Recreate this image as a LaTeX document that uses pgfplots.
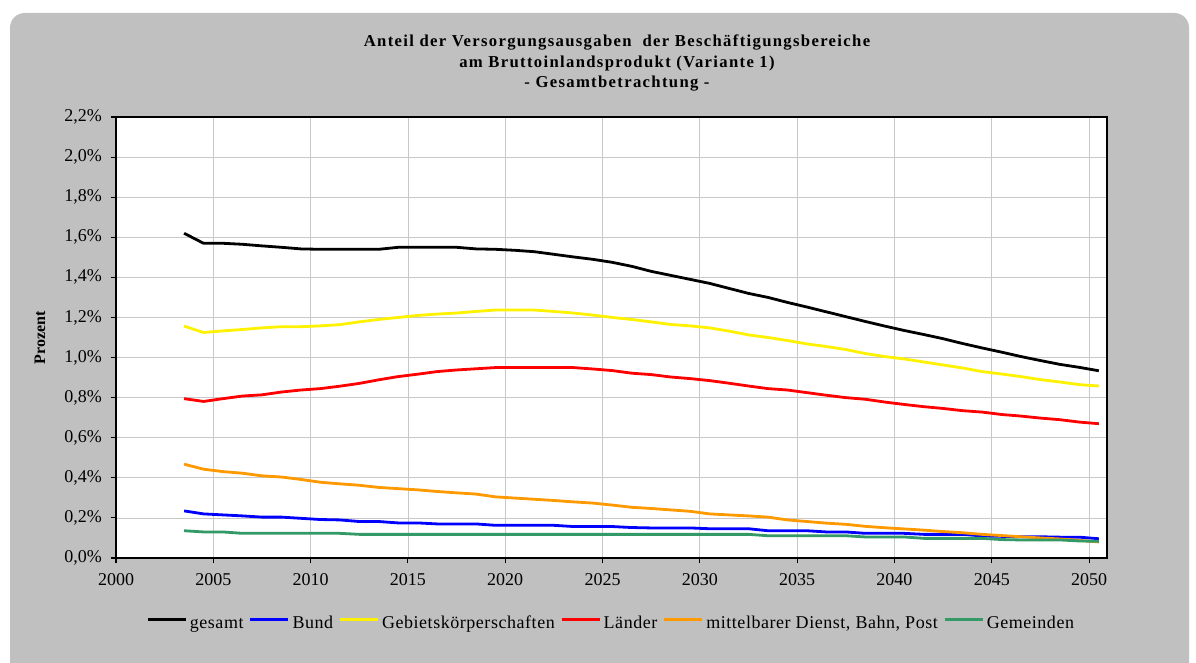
\documentclass[border=0pt]{standalone}
\usepackage{fontspec}
\setmainfont{Liberation Serif}
\newfontfamily\titlefont[LetterSpace=8]{Liberation Serif}
\newfontfamily\legfont[LetterSpace=3]{Liberation Serif}
\usepackage{pgfplots}
\pgfplotsset{compat=1.18}
\usepackage{pgfplotstable}

\definecolor{bg}{RGB}{192,192,192}
\definecolor{gridc}{RGB}{200,200,200}
\definecolor{cOrange}{RGB}{255,153,0}
\definecolor{cGreen}{RGB}{51,153,102}

% Anteil am BIP in Prozent, Jahreswerte
\pgfplotstableread{
year   gesamt bund  gebiet laender mittel gemeinden
2003.5 1.620 0.235 1.157 0.795 0.468 0.136
2004.5 1.570 0.220 1.125 0.781 0.443 0.130
2005.5 1.570 0.215 1.133 0.795 0.431 0.130
2006.5 1.565 0.210 1.140 0.808 0.423 0.123
2007.5 1.557 0.204 1.148 0.814 0.410 0.123
2008.5 1.550 0.204 1.154 0.828 0.404 0.123
2009.5 1.542 0.198 1.154 0.838 0.392 0.123
2010.5 1.540 0.192 1.158 0.845 0.378 0.123
2011.5 1.540 0.190 1.164 0.857 0.370 0.123
2012.5 1.540 0.182 1.178 0.871 0.363 0.118
2013.5 1.540 0.182 1.190 0.889 0.352 0.118
2014.5 1.550 0.175 1.200 0.905 0.346 0.118
2015.5 1.550 0.175 1.210 0.917 0.340 0.118
2016.5 1.550 0.170 1.217 0.930 0.332 0.118
2017.5 1.550 0.170 1.222 0.938 0.325 0.118
2018.5 1.542 0.170 1.230 0.944 0.319 0.118
2019.5 1.540 0.163 1.237 0.950 0.305 0.118
2020.5 1.535 0.163 1.237 0.950 0.299 0.118
2021.5 1.528 0.163 1.237 0.950 0.293 0.118
2022.5 1.515 0.163 1.230 0.950 0.287 0.118
2023.5 1.502 0.157 1.222 0.950 0.280 0.118
2024.5 1.490 0.157 1.212 0.943 0.274 0.118
2025.5 1.475 0.157 1.200 0.935 0.264 0.118
2026.5 1.455 0.152 1.190 0.922 0.253 0.118
2027.5 1.430 0.150 1.178 0.915 0.247 0.118
2028.5 1.410 0.150 1.165 0.903 0.240 0.118
2029.5 1.390 0.150 1.158 0.895 0.233 0.118
2030.5 1.370 0.146 1.148 0.885 0.220 0.118
2031.5 1.345 0.146 1.132 0.872 0.215 0.118
2032.5 1.320 0.146 1.113 0.858 0.210 0.118
2033.5 1.300 0.136 1.100 0.845 0.204 0.111
2034.5 1.275 0.136 1.085 0.838 0.190 0.111
2035.5 1.252 0.136 1.068 0.825 0.182 0.111
2036.5 1.228 0.130 1.055 0.812 0.174 0.111
2037.5 1.204 0.130 1.040 0.800 0.168 0.111
2038.5 1.180 0.123 1.020 0.792 0.158 0.105
2039.5 1.157 0.123 1.005 0.778 0.151 0.105
2040.5 1.135 0.123 0.993 0.766 0.145 0.105
2041.5 1.115 0.118 0.978 0.755 0.139 0.098
2042.5 1.094 0.118 0.963 0.746 0.132 0.098
2043.5 1.070 0.118 0.948 0.735 0.126 0.098
2044.5 1.048 0.110 0.930 0.728 0.118 0.098
2045.5 1.027 0.108 0.918 0.716 0.112 0.092
2046.5 1.005 0.106 0.905 0.708 0.106 0.090
2047.5 0.985 0.106 0.890 0.698 0.100 0.090
2048.5 0.966 0.104 0.878 0.690 0.095 0.090
2049.5 0.951 0.104 0.865 0.678 0.088 0.085
2050.5 0.934 0.096 0.858 0.670 0.080 0.083
}\datatable

\begin{document}
\begin{tikzpicture}
\begin{scope}[x=0.75pt,y=0.75pt]
  \useasboundingbox (0,0) rectangle (1196,662);
  \fill[white] (0,0) rectangle (1196,662);
  \begin{scope}
    \clip (0,0) rectangle (1196,662);
    \fill[bg, rounded corners=11pt] (10,-40) rectangle (1189,649);
  \end{scope}
  \node[font=\titlefont\bfseries\fontsize{12.5}{15.5}\selectfont, align=center] at (617,599)
    {Anteil der Versorgungsausgaben\ \ der Beschäftigungsbereiche\\
     am Bruttoinlandsprodukt (Variante 1)\\
     - Gesamtbetrachtung -};
\end{scope}

\begin{axis}[
    at={(87pt,78pt)}, anchor=south west,
    width=743.25pt, height=330.75pt, scale only axis,
    axis background/.style={fill=white},
    xmin=2000, xmax=2050.92, ymin=0, ymax=2.2,
    xtick={2000,2005,...,2050},
    ytick={0,0.2,0.4,0.6,0.8,1,1.2,1.4,1.6,1.8,2,2.2},
    grid=major,
    major grid style={gridc, line width=0.6pt},
    axis line style={black, line width=0.8pt},
    tick style={black, line width=0.8pt},
    tick align=outside, tick pos=left, major tick length=4pt,
    /pgf/number format/assume math mode=true,
    ticklabel style={font=\fontsize{13.5}{15}\selectfont},
    xticklabel style={/pgf/number format/1000 sep={}, yshift=-4pt},
    yticklabel style={xshift=-3pt},
    yticklabel={\pgfmathprintnumber[fixed,fixed zerofill,precision=1,use comma]{\tick}\%},
    ylabel={Prozent},
    every axis y label/.style={at={(axis description cs:-0.0767,0.5)}, rotate=90, anchor=center,
      font=\bfseries\fontsize{12}{14}\selectfont},
    legend columns=6,
    legend style={at={(0.5,-0.152)}, anchor=center, draw=none, fill=none,
      font=\legfont\fontsize{13.5}{15}\selectfont,
      /tikz/every even column/.append style={column sep=2pt},
      nodes={inner sep=2pt, text height=1.6ex, text depth=0.4ex}},
    legend image code/.code={\draw[#1, line width=2.2pt] (0pt,0.9ex) -- (28.5pt,0.9ex);},
    every axis plot/.append style={line width=2.1pt},
]
\addplot[black]   table[x=year, y=gesamt]    {\datatable};
\addlegendentry{gesamt}
\addplot[blue]    table[x=year, y=bund]      {\datatable};
\addlegendentry{Bund}
\addplot[yellow]  table[x=year, y=gebiet]    {\datatable};
\addlegendentry{Gebietskörperschaften}
\addplot[red]     table[x=year, y=laender]   {\datatable};
\addlegendentry{Länder}
\addplot[cOrange] table[x=year, y=mittel]    {\datatable};
\addlegendentry{mittelbarer Dienst, Bahn, Post}
\addplot[cGreen]  table[x=year, y=gemeinden] {\datatable};
\addlegendentry{Gemeinden}
\end{axis}
\end{tikzpicture}
\end{document}
